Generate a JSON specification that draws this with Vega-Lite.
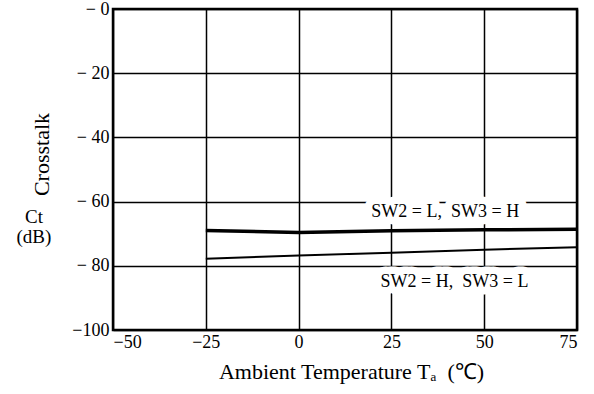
{
  "$schema": "https://vega.github.io/schema/vega-lite/v6.json",
  "width": 464,
  "height": 321,
  "autosize": {"type": "none"},
  "padding": {"left": 113, "top": 9, "right": 17, "bottom": 64},
  "background": "white",
  "config": {
    "font": "Liberation Serif",
    "view": {"stroke": "black", "strokeWidth": 2.5},
    "axis": {"titleFontWeight": "normal", "labelColor": "black", "titleColor": "black"}
  },
  "datasets": {
    "curves": [
      {"series": "SW2=L, SW3=H", "t": -25, "ct": -69.0},
      {"series": "SW2=L, SW3=H", "t": 0, "ct": -69.6},
      {"series": "SW2=L, SW3=H", "t": 25, "ct": -69.1},
      {"series": "SW2=L, SW3=H", "t": 50, "ct": -68.8},
      {"series": "SW2=L, SW3=H", "t": 75, "ct": -68.6},
      {"series": "SW2=H, SW3=L", "t": -25, "ct": -77.8},
      {"series": "SW2=H, SW3=L", "t": 0, "ct": -76.8},
      {"series": "SW2=H, SW3=L", "t": 25, "ct": -75.9},
      {"series": "SW2=H, SW3=L", "t": 50, "ct": -75.0},
      {"series": "SW2=H, SW3=L", "t": 75, "ct": -74.2}
    ],
    "labels": [
      {"label": "SW2\u00a0=\u00a0L,\u00a0\u00a0SW3\u00a0=\u00a0H", "t": 39.5, "ct": -63.2},
      {"label": "SW2\u00a0=\u00a0H,\u00a0\u00a0SW3\u00a0=\u00a0L", "t": 42, "ct": -85.2}
    ],
    "unit": [
      {"label": "Ct", "t": -71.3, "ct": -64.8},
      {"label": "(dB)", "t": -71.3, "ct": -71.0}
    ]
  },
  "encoding": {
    "x": {
      "field": "t", "type": "quantitative",
      "scale": {"domain": [-50, 75], "nice": false, "zero": false},
      "axis": {
        "values": [-50, -25, 0, 25, 50, 75],
        "labelExpr": "datum.value < 0 ? '−' + abs(datum.value) : '' + datum.value",
        "grid": true, "gridColor": "black", "gridWidth": 1.5, "gridOpacity": 1,
        "domain": false, "ticks": false,
        "labelFontSize": 18, "labelPadding": 3,
        "title": "Ambient Temperature Tₐ\u00a0\u00a0(℃)",
        "titleFontSize": 22, "titlePadding": 10, "titleX": 238
      }
    },
    "y": {
      "field": "ct", "type": "quantitative",
      "scale": {"domain": [-100, 0], "nice": false, "zero": false},
      "axis": {
        "values": [-100, -80, -60, -40, -20, 0],
        "labelExpr": "datum.value == -100 ? '−100' : '− ' + abs(datum.value)",
        "grid": true, "gridColor": "black", "gridWidth": 1.5, "gridOpacity": 1,
        "domain": false, "ticks": false,
        "labelFontSize": 18, "labelPadding": 4,
        "title": "Crosstalk",
        "titleFontSize": 22, "titleAngle": 270,
        "titleX": -72, "titleY": 145, "titleAlign": "center", "titleBaseline": "middle"
      }
    }
  },
  "layer": [
    {
      "data": {"name": "curves"},
      "mark": {"type": "line", "color": "black", "clip": true},
      "encoding": {
        "detail": {"field": "series"},
        "size": {
          "field": "series", "type": "ordinal",
          "scale": {"domain": ["SW2=L, SW3=H", "SW2=H, SW3=L"], "range": [3.5, 2]},
          "legend": null
        }
      }
    },
    {
      "data": {"name": "labels"},
      "mark": {"type": "text", "fontSize": 18, "stroke": "white", "strokeWidth": 15, "fill": "white", "strokeJoin": "round"},
      "encoding": {"text": {"field": "label"}}
    },
    {
      "data": {"name": "labels"},
      "mark": {"type": "text", "fontSize": 18, "color": "black"},
      "encoding": {"text": {"field": "label"}}
    },
    {
      "data": {"name": "unit"},
      "mark": {"type": "text", "fontSize": 19, "color": "black", "clip": false},
      "encoding": {"text": {"field": "label"}}
    }
  ]
}
